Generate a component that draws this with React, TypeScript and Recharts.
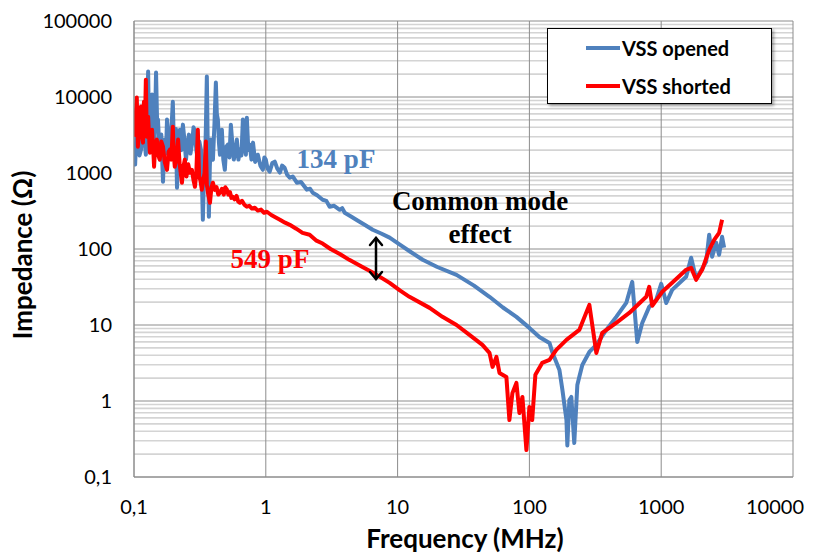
import React from "react";
import { LineChart, Line, XAxis, YAxis, CartesianGrid } from "recharts";

const W = 823;
const H = 554;

// axis ticks (log decades)
const freqTicks = [0.1, 1, 10, 100, 1000, 10000];
const impedanceTicks = [0.1, 1, 10, 100, 1000, 10000, 100000];

// [frequency MHz, impedance ohm]
const vssOpened: [number, number][] = [
  [0.1, 1800], [0.102, 1290], [0.104, 3000], [0.107, 3720], [0.11, 1700],
  [0.113, 2030], [0.116, 4200], [0.119, 6820], [0.121, 2400], [0.123, 1740],
  [0.126, 6000], [0.128, 21600], [0.13, 3500], [0.132, 2750], [0.135, 4500],
  [0.137, 10800], [0.14, 3000], [0.142, 2030], [0.145, 6500], [0.147, 21000],
  [0.15, 4000], [0.152, 5040], [0.155, 2500], [0.157, 1500], [0.161, 3200],
  [0.166, 768], [0.169, 2000], [0.172, 2750], [0.175, 1800], [0.178, 5040],
  [0.182, 3000], [0.187, 2030], [0.192, 3500], [0.197, 8690], [0.2, 3000],
  [0.204, 2030], [0.208, 3800], [0.212, 640], [0.217, 2200], [0.223, 3720],
  [0.229, 2000], [0.235, 4330], [0.241, 2800], [0.248, 1500], [0.254, 2300],
  [0.261, 3200], [0.268, 1800], [0.275, 2360], [0.283, 4000], [0.29, 3500],
  [0.297, 2000], [0.305, 1500], [0.313, 2600], [0.322, 2030], [0.327, 900],
  [0.333, 243], [0.339, 800], [0.345, 1100], [0.351, 4000], [0.357, 18600],
  [0.363, 2000], [0.37, 265], [0.376, 1200], [0.383, 2750], [0.39, 1600],
  [0.397, 1500], [0.408, 4500], [0.418, 15500], [0.425, 6000], [0.433, 5040],
  [0.441, 2500], [0.449, 1740], [0.456, 2800], [0.464, 3720], [0.476, 1500],
  [0.489, 1100], [0.5, 2200], [0.515, 2360], [0.53, 1600], [0.543, 4330],
  [0.557, 2500], [0.572, 1500], [0.588, 1900], [0.603, 2750], [0.62, 1500],
  [0.636, 2030], [0.653, 1700], [0.67, 5040], [0.688, 2200], [0.706, 1740],
  [0.718, 5350], [0.737, 2000], [0.756, 2360], [0.778, 1500], [0.8, 2510],
  [0.83, 1400], [0.87, 1740], [0.91, 1250], [0.95, 1100], [0.975, 1600],
  [1.0, 1500], [1.03, 1150], [1.07, 1040], [1.12, 1350], [1.17, 1410],
  [1.22, 1150], [1.28, 1010], [1.33, 1250], [1.39, 1170], [1.45, 950],
  [1.52, 867], [1.6, 900], [1.72, 745], [1.85, 760], [2.05, 603],
  [2.17, 620], [2.27, 550], [2.45, 510], [2.7, 445], [2.88, 430],
  [3.05, 360], [3.3, 370], [3.64, 328], [3.8, 345], [3.97, 300],
  [4.4, 270], [5.0, 235], [5.7, 205], [6.47, 179], [7.5, 160],
  [8.7, 141], [10.4, 114], [12.5, 92], [15.5, 72.1], [20, 58],
  [28, 45.7], [38, 33], [49.8, 23.5], [63, 17], [79.7, 12.8],
  [100, 9.16], [119, 6.97], [142, 5.81], [149, 4.42], [169, 2.56],
  [178, 1.4], [191, 0.562], [194, 0.26], [201, 1.03], [208, 1.13],
  [219, 0.28], [231, 1.62], [239, 2.07], [252, 2.98], [285, 4.42],
  [322, 5.47], [383, 8.62], [456, 12.8], [543, 19.5], [603, 37],
  [658, 5.99], [718, 10.6], [811, 17.3], [916, 21.4], [1000, 34.8],
  [1092, 19.5], [1211, 29], [1546, 43.1], [1687, 76.6], [1841, 40.5],
  [2193, 67.8], [2312, 154], [2434, 78.9], [2612, 121], [2750, 83.9],
  [2897, 145], [3000, 104],
];

const vssShorted: [number, number][] = [
  [0.1, 3000], [0.102, 4070], [0.105, 9820], [0.107, 2220], [0.11, 5000],
  [0.113, 7480], [0.115, 3000], [0.117, 2510], [0.119, 8690], [0.121, 4000],
  [0.123, 16900], [0.125, 3010], [0.128, 5500], [0.132, 1850], [0.135, 2800],
  [0.137, 3720], [0.14, 2000], [0.142, 1210], [0.145, 2400], [0.149, 2750],
  [0.153, 1700], [0.157, 1500], [0.161, 2600], [0.166, 2220], [0.171, 1400],
  [0.178, 1100], [0.183, 1900], [0.187, 2030], [0.192, 1500], [0.197, 4070],
  [0.2, 1800], [0.204, 1210], [0.21, 1600], [0.216, 2750], [0.222, 1300],
  [0.231, 745], [0.237, 1200], [0.243, 1500], [0.25, 900], [0.258, 1300],
  [0.266, 1010], [0.275, 1100], [0.283, 800], [0.29, 660], [0.297, 1000],
  [0.305, 3720], [0.312, 900], [0.319, 800], [0.327, 603], [0.335, 800],
  [0.343, 1000], [0.351, 2590], [0.357, 700], [0.364, 550], [0.377, 406],
  [0.387, 650], [0.397, 745], [0.41, 600], [0.423, 650], [0.436, 520],
  [0.449, 550], [0.465, 620], [0.48, 520], [0.493, 650], [0.507, 603],
  [0.52, 520], [0.535, 560], [0.548, 470], [0.562, 487], [0.58, 450],
  [0.6, 500], [0.618, 420], [0.636, 406], [0.66, 430], [0.69, 380],
  [0.718, 360], [0.75, 370], [0.785, 340], [0.825, 349], [0.87, 320],
  [0.92, 330], [0.97, 300], [1.02, 309], [1.1, 280], [1.2, 258],
  [1.28, 243], [1.4, 222], [1.52, 208], [1.7, 185], [1.9, 163],
  [2.15, 154], [2.4, 130], [2.7, 118], [3.1, 100], [3.64, 86],
  [4.3, 72], [5.2, 60], [6.47, 49], [7.5, 42], [8.7, 35.8],
  [10.4, 28.5], [12.3, 23.5], [17.5, 16.8], [21.9, 12.8], [28, 10],
  [35.1, 7.41], [44, 5.47], [49.8, 4.29], [52.5, 2.81], [56.2, 3.8],
  [59.3, 2.34], [66.9, 2.07], [70.5, 0.562], [74.3, 1.27], [79.7, 1.73],
  [84, 0.695], [88.5, 1.13], [94.9, 0.226], [100, 0.834], [105, 0.562],
  [111, 2.2], [113, 2.34], [125, 3.17], [142, 3.47], [160, 4.7],
  [191, 6.36], [239, 8.62], [285, 18.4], [322, 4.29], [357, 7.87],
  [456, 10.7], [572, 14.4], [770, 23.5], [811, 31.8], [855, 17.9],
  [1018, 27.3], [1211, 35.9], [1546, 53.2], [1687, 56.5], [1841, 39.3],
  [2046, 53.2], [2312, 97.6], [2522, 132], [2750, 163], [2897, 243],
];

const series = [
  { name: "VSS opened", color: "#4F81BD", points: vssOpened },
  { name: "VSS shorted", color: "#FF0000", points: vssShorted },
];

// minor log gridlines (2..9 in each decade)
const minorImpedance = impedanceTicks
  .slice(0, -1)
  .flatMap((d) => [2, 3, 4, 5, 6, 7, 8, 9].map((m) => +(d * m).toPrecision(3)));

const fmt = (v: number) => String(v).replace(".", ",");

const sans = "Lato, 'Open Sans', sans-serif";
const serif = "'Liberation Serif', 'Times New Roman', serif";

// x tick: the last label is pulled inside like in the original
const FreqTick = (props: any) => {
  const { x, y, payload } = props;
  const last = payload.value === freqTicks[freqTicks.length - 1];
  return (
    <text x={last ? x - 18 : x} y={y} dy="0.71em" textAnchor="middle" fill="#000" fontSize={20} fontFamily={sans}>
      {fmt(payload.value)}
    </text>
  );
};

export default function App() {
  return (
    <div style={{ position: "absolute", left: 0, top: 0, width: W, height: H, background: "#fff" }}>
      <LineChart width={W} height={H} margin={{ top: 21, right: 30, left: 0, bottom: 0 }}>
        <CartesianGrid
          horizontalValues={minorImpedance}
          vertical={false}
          stroke="#d4d4d4"
          strokeWidth={1.6}
        />
        <CartesianGrid
          horizontalValues={impedanceTicks}
          verticalValues={freqTicks}
          stroke="#8c8c8c"
          strokeWidth={1}
        />
        <XAxis
          type="number"
          dataKey="f"
          scale="log"
          domain={[0.1, 10000]}
          ticks={freqTicks}
          interval={0}
          allowDataOverflow
          height={77}
          tickSize={0}
          tickMargin={23}
          axisLine={{ stroke: "#8c8c8c" }}
          tick={<FreqTick />}
        />
        <YAxis
          type="number"
          dataKey="z"
          scale="log"
          domain={[0.1, 100000]}
          ticks={impedanceTicks}
          interval={0}
          allowDataOverflow
          tickFormatter={fmt}
          width={134}
          tickSize={0}
          tickMargin={22}
          axisLine={{ stroke: "#8c8c8c" }}
          tick={{ fill: "#000", fontSize: 20, fontFamily: sans }}
        />
        {series.map((s) => (
          <Line
            key={s.name}
            name={s.name}
            data={s.points.map(([f, z]) => ({ f, z }))}
            dataKey="z"
            type="linear"
            stroke={s.color}
            strokeWidth={4}
            strokeLinejoin="round"
            dot={false}
            activeDot={false}
            isAnimationActive={false}
          />
        ))}
      </LineChart>

      {/* titles and annotations */}
      <svg width={W} height={H} style={{ position: "absolute", left: 0, top: 0, pointerEvents: "none" }}>
        <text
          x={22}
          y={255}
          transform="rotate(-90 22 255)"
          textAnchor="middle"
          dominantBaseline="central"
          fontFamily={sans}
          fontWeight="bold"
          fontSize={26}
        >
          Impedance (Ω)
        </text>
        <text x={465} y={548} textAnchor="middle" fontFamily={sans} fontWeight="bold" fontSize={26}>
          Frequency (MHz)
        </text>
        <text x={336} y={168} textAnchor="middle" fontFamily={serif} fontWeight="bold" fontSize={27} fill="#4F81BD">
          134 pF
        </text>
        <text x={270} y={268} textAnchor="middle" fontFamily={serif} fontWeight="bold" fontSize={27} fill="#FF0000">
          549 pF
        </text>
        <text x={480} y={210} textAnchor="middle" fontFamily={serif} fontWeight="bold" fontSize={27}>
          Common mode
        </text>
        <text x={480} y={243} textAnchor="middle" fontFamily={serif} fontWeight="bold" fontSize={27}>
          effect
        </text>
        <g stroke="#000" strokeWidth={2.5} fill="none" strokeLinecap="round">
          <line x1={376} y1={238} x2={376} y2={279} />
          <polyline points="370,245 376,238 382,245" />
          <polyline points="370,272 376,279 382,272" />
        </g>
      </svg>

      {/* legend */}
      <div
        style={{
          position: "absolute",
          left: 547,
          top: 28,
          width: 225,
          height: 76,
          boxSizing: "border-box",
          border: "1.5px solid #000",
          background: "#fff",
          boxShadow: "2px 2px 3px rgba(0,0,0,0.35)",
        }}
      >
        {series.map((s, i) => (
          <div
            key={s.name}
            style={{ position: "absolute", left: 38, top: 7 + i * 38, height: 24, display: "flex", alignItems: "center" }}
          >
            <div style={{ width: 34, height: 4, background: s.color }} />
            <span style={{ marginLeft: 2, fontFamily: sans, fontWeight: "bold", fontSize: 20, color: "#000" }}>
              {s.name}
            </span>
          </div>
        ))}
      </div>
    </div>
  );
}
